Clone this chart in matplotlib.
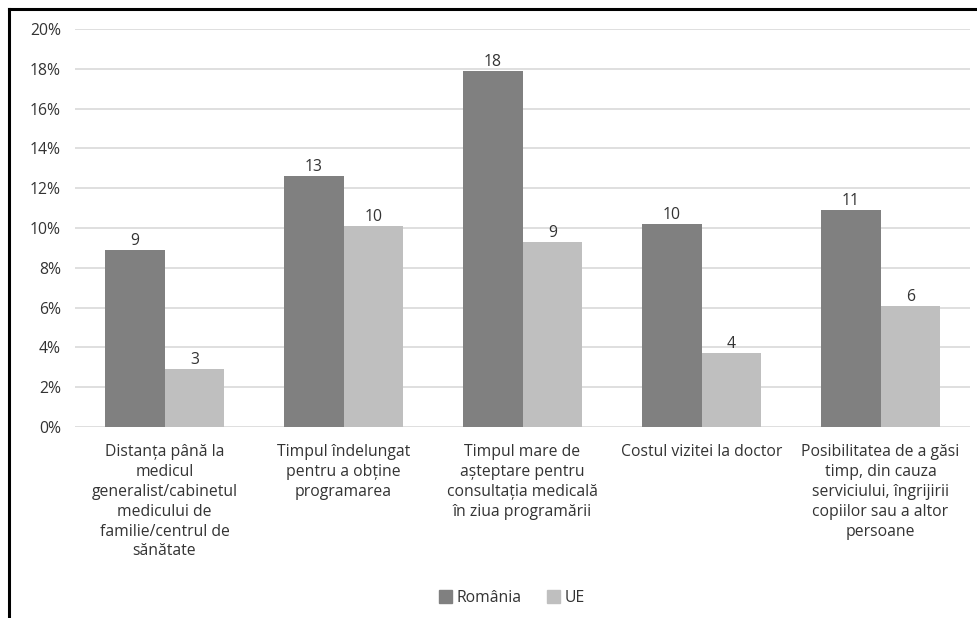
import matplotlib.pyplot as plt
import numpy as np
from matplotlib.lines import Line2D
from matplotlib.patches import Patch
from matplotlib.ticker import PercentFormatter

categories = [
    "Distanța până la\nmedicul\ngeneralist/cabinetul\nmedicului de\nfamilie/centrul de\nsănătate",
    "Timpul îndelungat\npentru a obține\nprogramarea",
    "Timpul mare de\nașteptare pentru\nconsultația medicală\nîn ziua programării",
    "Costul vizitei la doctor",
    "Posibilitatea de a găsi\ntimp, din cauza\nserviciului, îngrijirii\ncopiilor sau a altor\npersoane",
]
romania = [8.9, 12.6, 17.9, 10.2, 10.9]
ue = [2.9, 10.1, 9.3, 3.7, 6.1]
series_names = ["România", "UE"]

plt.rcParams["font.family"] = ["Open Sans", "DejaVu Sans"]
TEXT = "#333333"
C_RO = "#808080"
C_UE = "#bfbfbf"
FS = 11.3

fig = plt.figure(figsize=(9.77, 6.18), dpi=100)
ax = fig.add_axes([75 / 977, 1 - 427 / 618, 895 / 977, 398 / 618])

x = np.arange(len(categories))
w = 1 / 3
ax.bar(x - w / 2, romania, w, color=C_RO, zorder=3)
ax.bar(x + w / 2, ue, w, color=C_UE, zorder=3)

for xi, v in zip(x, romania):
    ax.text(xi - w / 2, v + 0.05, f"{round(v)}", ha="center", va="bottom",
            fontsize=FS, color=TEXT)
for xi, v in zip(x, ue):
    ax.text(xi + w / 2, v + 0.05, f"{round(v)}", ha="center", va="bottom",
            fontsize=FS, color=TEXT)

ax.set_xlim(-0.5, len(categories) - 0.5)
ax.set_ylim(0, 20)
ax.set_yticks(np.arange(0, 21, 2))
ax.yaxis.set_major_formatter(PercentFormatter(decimals=0))
ax.set_xticks(x)
ax.set_xticklabels(categories, fontsize=FS, color=TEXT, linespacing=1.33, va="top")
ax.tick_params(axis="both", length=0, labelsize=FS, labelcolor=TEXT)
ax.tick_params(axis="x", pad=12)
ax.tick_params(axis="y", pad=10)
ax.grid(axis="y", color="#d9d9d9", linewidth=1.2, zorder=0)
for s in ax.spines.values():
    s.set_visible(False)

handles = [Patch(color=C_RO), Patch(color=C_UE)]
fig.legend(handles, series_names, loc="center", bbox_to_anchor=(512 / 977, 1 - 598 / 618),
           ncol=2, frameon=False, fontsize=FS, handlelength=0.85, handleheight=0.85,
           handletextpad=0.3, columnspacing=1.6, labelcolor=TEXT)

# outer frame (left and top edges only)
fig.add_artist(Line2D([9 / 977, 9 / 977], [0, 1 - 9 / 618], color="black", linewidth=2.2,
                      transform=fig.transFigure))
fig.add_artist(Line2D([9 / 977, 1], [1 - 9 / 618, 1 - 9 / 618], color="black", linewidth=2.2,
                      transform=fig.transFigure))

fig.savefig("out.png", dpi=100, facecolor="white")
